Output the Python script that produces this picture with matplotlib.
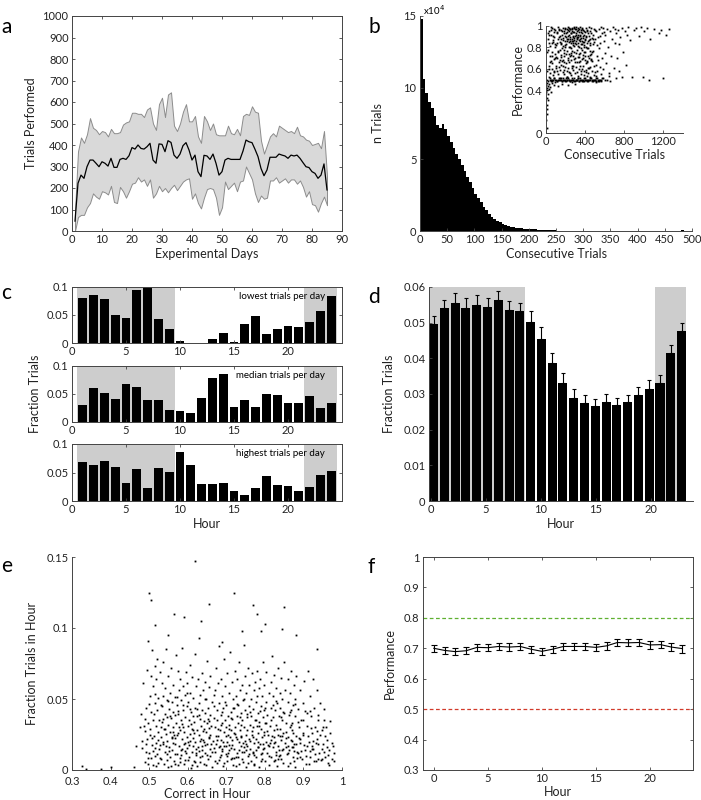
import numpy as np
import matplotlib
matplotlib.use("Agg")
import matplotlib.pyplot as plt

# ---------------- data ----------------
# a: trials performed per experimental day (mean and spread)
days = np.arange(1, 86)
trials_mean = [46, 222, 260, 245, 299, 330, 330, 315, 299, 322,
               315, 302, 338, 296, 296, 333, 338, 333, 350, 388,
               381, 400, 384, 381, 392, 408, 330, 315, 405, 403,
               369, 420, 412, 353, 338, 358, 397, 411, 377, 330,
               353, 276, 253, 352, 349, 333, 358, 315, 260, 276,
               330, 338, 333, 333, 333, 333, 372, 423, 415, 411,
               380, 346, 291, 257, 284, 343, 343, 343, 358, 353,
               349, 338, 353, 349, 353, 338, 318, 299, 295, 276,
               268, 245, 260, 312, 191]
trials_upper = [90, 370, 435, 410, 450, 525, 480, 470, 450, 465,
                460, 440, 475, 455, 455, 460, 495, 505, 510, 550,
                550, 545, 545, 530, 565, 575, 500, 470, 590, 620,
                530, 635, 645, 490, 465, 500, 555, 590, 510, 510,
                535, 440, 410, 535, 510, 470, 500, 450, 445, 445,
                445, 490, 455, 450, 475, 445, 535, 545, 540, 580,
                555, 550, 420, 360, 400, 440, 455, 440, 490, 480,
                470, 460, 465, 455, 485, 445, 440, 425, 420, 400,
                405, 410, 385, 465, 255]
trials_lower = [0, 65, 75, 75, 110, 130, 175, 160, 150, 185,
                180, 170, 210, 135, 130, 205, 185, 155, 185, 220,
                225, 250, 230, 240, 210, 240, 155, 175, 210, 185,
                200, 180, 200, 215, 190, 210, 230, 240, 245, 150,
                175, 130, 105, 155, 195, 200, 195, 155, 75, 110,
                230, 195, 210, 225, 185, 230, 235, 300, 270, 240,
                175, 135, 165, 150, 155, 235, 235, 250, 225, 235,
                245, 225, 240, 240, 220, 235, 205, 160, 185, 125,
                120, 90, 130, 160, 120]

# b: histogram of consecutive trials (bins of 5, counts in units of 1e4)
bin_left = np.arange(0, 500, 5)
bin_counts = [14.8, 10.6, 9.6, 9.0, 8.6, 8.0, 7.4, 7.2, 7.5, 7.1,
              6.6, 6.2, 5.8, 5.4, 5.0, 4.6, 4.2, 3.8, 3.4, 3.0,
              2.6, 2.3, 2.0, 1.7, 1.45, 1.2, 1.0, 0.85, 0.7, 0.6,
              0.5, 0.42, 0.35, 0.3, 0.26, 0.22, 0.2, 0.18, 0.17, 0.16,
              0.14, 0.12, 0.13, 0.1, 0.1, 0.08, 0.06, 0.05, 0.05, 0.04,
              0.03, 0.03, 0.02, 0.03, 0.02, 0.02, 0.01, 0.02, 0.01, 0.03,
              0.01, 0.01, 0.02, 0.01, 0.01, 0.03, 0.01, 0.0, 0.01, 0.01,
              0.0, 0.01, 0.0, 0.0, 0.01, 0.0, 0.02, 0.0, 0.0, 0.01,
              0.0, 0.0, 0.01, 0.0, 0.0, 0.0, 0.0, 0.0, 0.0, 0.0,
              0.0, 0.0, 0.0, 0.0, 0.0, 0.0, 0.04, 0.0, 0.0, 0.0]

# b inset: (consecutive trials, performance in %)
inset_streak = [(12, 50), (25, 49), (38, 51), (47, 50), (60, 49), (72, 50), (85, 51), (96, 50),
                (110, 49), (122, 50), (135, 50), (148, 51), (160, 49), (171, 50), (184, 50),
                (197, 49), (205, 51), (218, 50), (230, 50), (243, 49), (255, 50), (268, 51),
                (279, 50), (290, 49), (302, 50), (315, 50), (327, 51), (340, 49), (352, 50),
                (365, 50), (377, 49), (390, 51), (402, 50), (415, 50), (428, 49), (440, 50),
                (452, 51), (466, 50), (478, 49), (490, 50), (503, 50), (515, 51), (528, 49),
                (540, 50), (552, 50), (566, 49), (580, 51), (598, 50), (30, 52), (90, 48),
                (150, 51), (210, 52), (270, 48), (330, 51), (390, 49), (450, 52), (510, 48),
                (570, 51), (620, 50), (650, 49),
                (44, 50), (52, 49), (66, 50), (79, 51), (101, 50), (116, 49), (129, 51),
                (142, 50), (155, 50), (166, 49), (178, 51), (190, 50), (201, 49), (212, 50),
                (224, 51), (236, 50), (248, 49), (261, 50), (273, 50), (285, 51), (296, 49),
                (309, 50), (321, 50), (334, 49), (346, 51), (358, 50), (370, 49), (383, 50),
                (396, 51), (409, 50), (421, 49), (434, 50), (446, 50), (459, 51), (471, 49),
                (484, 50), (496, 50), (509, 49), (521, 51), (534, 50), (546, 49), (559, 50)]
inset_bulk = [(22, 88), (28, 63), (33, 95), (37, 72), (41, 56), (45, 81), (50, 67), (54, 92),
              (58, 60), (62, 76), (66, 98), (70, 54), (74, 85), (78, 69), (82, 90), (86, 58),
              (90, 74), (94, 96), (98, 63), (25, 78), (47, 99), (68, 87), (88, 80), (35, 60),
              (57, 84), (77, 57), (93, 70), (30, 92), (64, 65), (84, 94),
              (102, 82), (106, 61), (110, 94), (114, 70), (118, 88), (122, 55), (126, 77),
              (130, 97), (134, 66), (138, 85), (142, 59), (146, 91), (150, 73), (154, 83),
              (158, 64), (162, 95), (166, 79), (170, 57), (174, 89), (178, 68), (182, 93),
              (186, 75), (190, 62), (194, 86), (198, 98), (104, 71), (116, 58), (128, 90),
              (140, 78), (152, 96), (164, 67), (176, 81), (188, 55), (196, 91), (108, 84),
              (132, 62), (156, 88), (180, 72), (192, 80), (124, 99),
              (202, 90), (205, 65), (208, 83), (211, 94), (214, 58), (217, 77), (220, 88),
              (223, 70), (226, 96), (229, 61), (232, 85), (235, 92), (238, 74), (241, 80),
              (244, 97), (247, 56), (250, 88), (253, 68), (256, 93), (259, 79), (262, 86),
              (265, 63), (268, 95), (271, 82), (274, 72), (277, 90), (280, 59), (283, 87),
              (286, 76), (289, 94), (292, 66), (295, 84), (298, 91), (210, 52), (225, 99),
              (240, 66), (255, 54), (270, 88), (285, 98), (300, 70), (215, 86), (245, 90),
              (260, 73), (275, 84), (290, 81),
              (303, 93), (306, 62), (309, 86), (312, 78), (315, 95), (318, 57), (321, 89),
              (324, 71), (327, 84), (330, 92), (333, 66), (336, 80), (339, 97), (342, 60),
              (345, 88), (348, 75), (351, 91), (354, 83), (357, 55), (360, 94), (363, 69),
              (366, 86), (369, 78), (372, 98), (375, 63), (378, 89), (381, 73), (384, 92),
              (387, 58), (390, 82), (393, 95), (396, 68), (399, 87), (310, 99), (325, 53),
              (340, 74), (355, 96), (370, 60), (385, 80), (398, 76), (320, 90), (335, 87),
              (350, 67), (365, 93), (380, 85),
              (402, 72), (406, 91), (410, 59), (414, 84), (418, 96), (422, 66), (426, 79),
              (430, 93), (434, 56), (438, 87), (442, 70), (446, 95), (450, 62), (454, 82),
              (458, 98), (462, 74), (466, 58), (470, 89), (474, 67), (478, 92), (482, 77),
              (486, 54), (490, 85), (494, 63), (498, 96), (408, 80), (428, 61), (448, 88),
              (468, 76), (488, 97), (416, 53), (436, 99), (456, 69), (476, 83), (496, 57),
              (503, 88), (508, 64), (514, 95), (520, 72), (526, 58), (532, 90), (538, 79),
              (544, 97), (550, 62), (556, 84), (562, 55), (568, 93), (574, 70), (580, 98),
              (586, 60), (592, 86), (598, 75), (512, 53), (536, 68), (560, 99)]
inset_blob = [(152, 84), (158, 71), (163, 92), (169, 63), (173, 87), (179, 78), (184, 95),
              (189, 66), (195, 82), (201, 93), (206, 74), (212, 88), (216, 97), (221, 68),
              (227, 91), (231, 80), (236, 95), (242, 86), (246, 72), (251, 93), (257, 84),
              (261, 97), (266, 77), (272, 91), (276, 86), (281, 94), (287, 69), (291, 89),
              (296, 97), (302, 83), (306, 92), (311, 75), (317, 88), (322, 96), (326, 81),
              (331, 90), (337, 94), (341, 71), (347, 86), (352, 92), (356, 79), (361, 89),
              (367, 97), (371, 83), (376, 70), (382, 91), (386, 85), (391, 76), (397, 94),
              (401, 88), (407, 65), (412, 90), (417, 79), (423, 95), (427, 72), (433, 86),
              (437, 91), (443, 61), (447, 84), (453, 77), (457, 93), (463, 68), (267, 61),
              (232, 57), (298, 56), (343, 63), (388, 54), (415, 67), (188, 59), (144, 68),
              (118, 76), (96, 83), (73, 91), (60, 72), (43, 66), (31, 84), (19, 93), (14, 58),
              (9, 76), (253, 75), (279, 63), (316, 66), (362, 58), (404, 57), (445, 73),
              (482, 88), (520, 82), (548, 91), (590, 94), (250, 97), (270, 98), (310, 97),
              (330, 98), (290, 99), (350, 99), (230, 98), (380, 96), (410, 98), (190, 97),
              (170, 98), (130, 96), (110, 93), (80, 97), (55, 96)]
inset_sparse = [(605, 92), (615, 65), (625, 97), (635, 80), (645, 56), (655, 95), (665, 72),
                (675, 88), (685, 99), (695, 61), (705, 84), (715, 93), (725, 70), (735, 96),
                (745, 58), (760, 90), (775, 98), (790, 76), (805, 95), (820, 64), (840, 99),
                (860, 87), (880, 52), (900, 96), (720, 51), (780, 52), (640, 53), (700, 97),
                (750, 83), (830, 92), (920, 98), (950, 91), (975, 99), (1000, 95), (1030, 98),
                (1060, 88), (1100, 97), (1150, 93), (1180, 96), (1200, 51), (1230, 92),
                (1260, 97), (1050, 50), (990, 52)]
inset_low = [(3, 45), (5, 38), (8, 42), (10, 33), (12, 47), (15, 40), (18, 36), (20, 44),
             (24, 31), (28, 46), (6, 26), (9, 18), (4, 12), (7, 5), (11, 22), (30, 41),
             (40, 43), (50, 38), (120, 44), (160, 46), (60, 47), (80, 45), (300, 46), (220, 45)]

# c: fraction of trials per hour for three example animals
hours_c = np.arange(1, 25)
frac_lowest = [0.0804, 0.0857, 0.0792, 0.0494, 0.0440, 0.0952, 0.1000, 0.0435, 0.0250, 0.0042,
               0.0006, 0.0006, 0.0077, 0.0179, 0.0024, 0.0345, 0.0476, 0.0161, 0.0250, 0.0310,
               0.0280, 0.0381, 0.0577, 0.0833]
frac_median = [0.0296, 0.0604, 0.0515, 0.0402, 0.0680, 0.0621, 0.0396, 0.0391, 0.0207, 0.0189,
               0.0160, 0.0420, 0.0793, 0.0864, 0.0260, 0.0391, 0.0272, 0.0503, 0.0491, 0.0331,
               0.0343, 0.0462, 0.0254, 0.0331]
frac_highest = [0.0682, 0.0624, 0.0694, 0.0600, 0.0318, 0.0565, 0.0229, 0.0582, 0.0512, 0.0853,
                0.0624, 0.0294, 0.0294, 0.0312, 0.0171, 0.0112, 0.0235, 0.0441, 0.0276, 0.0265,
                0.0176, 0.0253, 0.0459, 0.0524]
c_labels = ['lowest trials per day', 'median trials per day', 'highest trials per day']

# d: mean fraction of trials per hour with s.e.m.
hours = np.arange(0, 24)
frac_mean = [0.0497, 0.0541, 0.0555, 0.0542, 0.0550, 0.0543, 0.0564, 0.0536, 0.0533, 0.0501,
             0.0454, 0.0386, 0.0332, 0.0290, 0.0276, 0.0266, 0.0278, 0.0268, 0.0277, 0.0296,
             0.0314, 0.0331, 0.0416, 0.0478]
frac_sem = [0.0023, 0.0022, 0.0028, 0.0026, 0.0027, 0.0025, 0.0026, 0.0026, 0.0022, 0.0031,
            0.0033, 0.0028, 0.0028, 0.0023, 0.0021, 0.0019, 0.0021, 0.0022, 0.0021, 0.0025,
            0.0025, 0.0022, 0.0020, 0.0022]

# e: (correct in hour x1000, fraction trials in hour x10000)
hour_points = [(325, 30), (335, 10), (375, 10), (400, 20), (460, 20), (465, 170), (475, 300),
               (500, 1250), (505, 1200), (515, 1020), (550, 950), (565, 1100), (590, 1080),
               (620, 1470), (635, 1050), (655, 1170), (720, 1250), (770, 1160), (780, 1100),
               (800, 1030), (850, 1150), (845, 990), (880, 950), (935, 850), (690, 900),
               (740, 980), (790, 980),
               (478, 392), (482, 152), (485, 610), (488, 275), (490, 58), (492, 438), (494, 705),
               (495, 215), (497, 330), (498, 905), (500, 120), (501, 520), (503, 286), (504, 665),
               (505, 410), (507, 175), (508, 845), (509, 35), (510, 355), (511, 590), (512, 240),
               (514, 470), (515, 730), (516, 98), (517, 310), (518, 640), (519, 190), (520, 420),
               (521, 780), (522, 265), (523, 52), (524, 505), (525, 355), (526, 150), (527, 690),
               (530, 232), (531, 455), (532, 80), (533, 610), (534, 340), (535, 185), (536, 520),
               (537, 760), (538, 290), (539, 45), (540, 395), (541, 130), (542, 580), (543, 255),
               (544, 850), (545, 370), (546, 205), (547, 490), (548, 20), (549, 315), (550, 660),
               (551, 160), (552, 430), (553, 270), (554, 540), (555, 95), (556, 365), (557, 720),
               (558, 225), (559, 480), (560, 140), (561, 300), (562, 600), (563, 410), (564, 60),
               (565, 250), (566, 515), (567, 180), (568, 385), (569, 810),
               (570, 330), (571, 110), (572, 460), (573, 245), (574, 700), (575, 35), (576, 395),
               (577, 560), (578, 170), (579, 280), (580, 640), (581, 85), (582, 350), (583, 490),
               (584, 215), (585, 860), (586, 150), (587, 420), (588, 305), (589, 590), (590, 40),
               (591, 265), (592, 530), (593, 190), (594, 375), (595, 690), (596, 120), (597, 450),
               (598, 235), (599, 610), (600, 310), (601, 70), (602, 480), (603, 175), (604, 350),
               (605, 740), (606, 255), (607, 540), (608, 15), (609, 410), (610, 290), (611, 655),
               (612, 130), (613, 380), (614, 225),
               (615, 505), (616, 60), (617, 340), (618, 820), (619, 200), (620, 440), (621, 105),
               (622, 590), (623, 280), (624, 380), (625, 25), (626, 640), (627, 165), (628, 470),
               (629, 250), (630, 930), (631, 360), (632, 90), (633, 530), (634, 215), (635, 310),
               (636, 680), (637, 140), (638, 420), (639, 275), (640, 560), (641, 45), (642, 345),
               (643, 195), (644, 620), (645, 400), (646, 120), (647, 265), (648, 500), (649, 330),
               (650, 770), (651, 180), (652, 435), (653, 75), (654, 295), (655, 585), (656, 230),
               (657, 390), (658, 150), (659, 660), (660, 310), (662, 20), (664, 480), (666, 205),
               (668, 365),
               (670, 560), (671, 130), (672, 300), (673, 720), (674, 180), (675, 420), (676, 50),
               (677, 350), (678, 610), (679, 240), (680, 160), (681, 470), (682, 870), (683, 280),
               (684, 95), (685, 390), (686, 640), (687, 210), (688, 330), (689, 520), (690, 150),
               (691, 25), (692, 440), (693, 265), (694, 780), (695, 170), (696, 355), (697, 590),
               (698, 110), (699, 300), (700, 460), (701, 200), (702, 680), (703, 60), (704, 380),
               (705, 250), (706, 540), (707, 140), (708, 320), (709, 830), (710, 230), (711, 410),
               (712, 80), (713, 280), (714, 620), (715, 175), (716, 360), (717, 500), (718, 35),
               (719, 260),
               (720, 440), (721, 150), (722, 700), (723, 300), (724, 90), (725, 520), (726, 230),
               (727, 380), (728, 640), (729, 120), (730, 330), (731, 460), (732, 200), (733, 760),
               (734, 40), (735, 280), (736, 560), (737, 170), (738, 400), (739, 240), (740, 600),
               (741, 75), (742, 350), (743, 490), (744, 190), (745, 880), (746, 300), (747, 130),
               (748, 420), (749, 660), (750, 250), (751, 20), (752, 540), (753, 170), (754, 370),
               (755, 280), (756, 720), (757, 100), (758, 450), (759, 220), (760, 600), (761, 320),
               (762, 150), (763, 500), (764, 60),
               (765, 380), (766, 250), (767, 680), (768, 130), (769, 430), (770, 300), (771, 560),
               (772, 190), (773, 40), (774, 350), (775, 620), (776, 220), (777, 480), (778, 95),
               (779, 310), (780, 700), (781, 160), (782, 400), (783, 260), (784, 580), (785, 20),
               (786, 340), (787, 640), (788, 180), (789, 450), (790, 290), (791, 110), (792, 520),
               (793, 230), (794, 370), (795, 760), (796, 150), (797, 420), (798, 270), (799, 600),
               (800, 60), (801, 330), (802, 480), (803, 200), (804, 690), (805, 120), (806, 390),
               (808, 250), (810, 540), (812, 170),
               (814, 310), (815, 620), (816, 90), (817, 440), (818, 240), (819, 800), (820, 160),
               (821, 370), (822, 520), (823, 60), (824, 280), (825, 670), (826, 200), (827, 420),
               (828, 130), (829, 580), (830, 320), (831, 30), (832, 470), (833, 250), (834, 720),
               (835, 170), (836, 380), (837, 100), (838, 540), (839, 290), (840, 440), (841, 210),
               (842, 650), (843, 80), (844, 350), (845, 500), (846, 150), (847, 410), (848, 260),
               (849, 760), (851, 190), (853, 560), (855, 330), (857, 110),
               (859, 480), (860, 230), (861, 640), (862, 140), (863, 390), (864, 300), (865, 50),
               (866, 540), (867, 210), (868, 420), (869, 700), (870, 160), (871, 330), (872, 460),
               (873, 90), (874, 260), (875, 600), (876, 180), (877, 380), (878, 20), (879, 500),
               (880, 240), (882, 660), (884, 130), (886, 430), (888, 300), (890, 560), (892, 190),
               (894, 350), (896, 80), (898, 470), (900, 250), (902, 630), (905, 140), (908, 400),
               (910, 310), (912, 700), (914, 200), (916, 520), (918, 90), (920, 380), (922, 260),
               (924, 640), (926, 150), (928, 440), (930, 300), (932, 60), (934, 560), (936, 220),
               (938, 350), (941, 120), (944, 470), (947, 280), (950, 180), (953, 430), (956, 90),
               (959, 300), (962, 210), (966, 140), (970, 260), (975, 80), (979, 120)]
hour_points_more = [(486, 312), (493, 128), (499, 467), (506, 83), (513, 395), (519, 27), (528, 176),
                    (534, 448), (541, 292), (547, 67), (553, 381), (560, 229), (566, 42), (571, 517),
                    (577, 304), (583, 138), (589, 455), (594, 72), (600, 198), (606, 429), (611, 36),
                    (617, 262), (622, 151), (628, 384), (633, 56), (639, 213), (645, 498), (650, 105),
                    (656, 342), (661, 186), (667, 448), (672, 63), (678, 291), (683, 172), (689, 406),
                    (694, 48), (700, 237), (705, 121), (711, 367), (716, 88), (722, 255), (727, 462),
                    (733, 142), (738, 318), (744, 59), (749, 205), (755, 397), (760, 113), (766, 276),
                    (771, 34), (777, 352), (782, 164), (788, 417), (793, 77), (799, 243), (804, 331),
                    (810, 96), (815, 209), (821, 458), (826, 68), (832, 287), (837, 143), (843, 371),
                    (848, 52), (854, 226), (859, 117), (865, 409), (870, 284), (876, 63), (881, 186),
                    (887, 339), (892, 92), (898, 264), (903, 418), (909, 171), (914, 45), (920, 299),
                    (925, 205), (931, 113), (937, 388), (942, 243), (948, 75), (954, 352), (960, 160),
                    (967, 37), (973, 189),
                    (481, 205), (489, 362), (496, 41), (502, 248), (510, 137), (516, 536), (524, 214),
                    (529, 86), (536, 359), (543, 168), (549, 487), (556, 31), (562, 270), (568, 116),
                    (574, 413), (579, 57), (586, 327), (591, 181), (597, 542), (603, 94), (608, 326),
                    (614, 167), (619, 58), (625, 431), (631, 205), (636, 98), (642, 287), (647, 33),
                    (653, 362), (658, 247), (663, 129), (669, 527), (674, 238), (680, 71), (685, 318),
                    (691, 194), (696, 476), (702, 99), (707, 286), (713, 157), (718, 438), (724, 27),
                    (729, 216), (735, 371), (740, 128), (746, 497), (751, 184), (757, 51), (762, 411),
                    (768, 229), (773, 107), (779, 518), (784, 312), (790, 64), (795, 184), (801, 437),
                    (806, 273), (812, 38), (817, 351), (823, 192), (828, 487), (834, 79), (839, 236),
                    (845, 143), (850, 402), (856, 268), (861, 25), (867, 318), (872, 159), (878, 462),
                    (883, 84), (889, 227), (895, 133), (900, 355), (906, 42), (911, 239), (917, 418),
                    (923, 167), (928, 61), (934, 272), (939, 182), (945, 69), (951, 306), (957, 241),
                    (964, 47), (969, 344), (976, 167),
                    (491, 183), (507, 224), (521, 113), (537, 199), (552, 134), (568, 226), (583, 103),
                    (598, 157), (613, 282), (629, 137), (644, 176), (659, 97), (675, 213), (690, 131),
                    (706, 174), (721, 83), (737, 229), (752, 141), (768, 118), (783, 196), (799, 152),
                    (814, 187), (830, 108), (845, 241), (861, 172), (876, 131), (892, 219), (907, 96),
                    (923, 148), (938, 76), (954, 127), (498, 82), (514, 156), (530, 302), (545, 112),
                    (561, 187), (576, 264), (592, 132), (607, 203), (622, 117), (638, 166), (654, 224),
                    (669, 154), (685, 108), (700, 172), (716, 211), (731, 93), (747, 164), (762, 202),
                    (778, 141), (793, 118), (809, 175), (824, 233), (840, 106), (855, 162), (871, 207),
                    (886, 118), (902, 176), (917, 137), (933, 189), (948, 146), (963, 106), (980, 60)]

# f: performance per hour with s.e.m.
perf_mean = [0.700, 0.693, 0.689, 0.692, 0.703, 0.702, 0.706, 0.704, 0.706, 0.697, 0.690, 0.697,
             0.706, 0.706, 0.706, 0.703, 0.708, 0.719, 0.718, 0.719, 0.711, 0.712, 0.704, 0.699]
perf_sem = [0.012, 0.012, 0.011, 0.012, 0.012, 0.012, 0.012, 0.012, 0.012, 0.012, 0.012, 0.012,
            0.012, 0.013, 0.013, 0.012, 0.012, 0.012, 0.012, 0.012, 0.012, 0.012, 0.012, 0.013]

# ---------------- style ----------------
plt.rcParams['font.family'] = ['Lato', 'DejaVu Sans']
plt.rcParams['font.size'] = 8
plt.rcParams['axes.linewidth'] = 0.7
plt.rcParams['axes.edgecolor'] = '#444444'
plt.rcParams['axes.labelsize'] = 9
plt.rcParams['axes.labelcolor'] = '#222222'
for ax_ in ('xtick', 'ytick'):
    plt.rcParams[ax_ + '.direction'] = 'in'
    plt.rcParams[ax_ + '.major.size'] = 2.5
    plt.rcParams[ax_ + '.major.width'] = 0.6
    plt.rcParams[ax_ + '.color'] = '#444444'
    plt.rcParams[ax_ + '.labelcolor'] = '#222222'
    plt.rcParams[ax_ + '.labelsize'] = 8
    plt.rcParams[ax_ + '.major.pad'] = 2.5

SHADE = '#cdcdcd'
W, H = 701, 800
fig = plt.figure(figsize=(W / 100, H / 100), dpi=100)


def axes_px(l, t, r, b):
    return fig.add_axes([l / W, 1 - b / H, (r - l) / W, (b - t) / H])


def letter(x, y, s):
    fig.text(x / W, 1 - y / H, s, fontsize=15, ha='left', va='baseline')


def no_box(ax):
    ax.spines['top'].set_visible(False)
    ax.spines['right'].set_visible(False)


# ---------------- a ----------------
ax = axes_px(72, 16, 342, 231)
ax.fill_between(days, trials_lower, trials_upper, facecolor='#d9d9d9',
                edgecolor='#8c8c8c', linewidth=0.7)
ax.plot(days, trials_mean, color='k', lw=0.9)
ax.set_xlim(0, 90)
ax.set_ylim(0, 1000)
ax.set_xticks(np.arange(0, 91, 10))
ax.set_yticks(np.arange(0, 1001, 100))
ax.tick_params(top=True, right=True)
ax.set_xlabel('Experimental Days', labelpad=2)
ax.set_ylabel('Trials Performed', labelpad=4)
letter(1, 33, 'a')

# ---------------- b ----------------
ax = axes_px(420, 16, 692, 231)
ax.bar(bin_left, bin_counts, width=5, align='edge', color='k', linewidth=0)
ax.set_xlim(0, 500)
ax.set_ylim(0, 15)
ax.set_xticks(np.arange(0, 501, 50))
ax.set_yticks([0, 5, 10, 15])
no_box(ax)
ax.set_xlabel('Consecutive Trials', labelpad=2)
ax.set_ylabel('n Trials', labelpad=14)
fig.text(423 / W, 1 - 3 / H, r'x10$^4$', fontsize=7, va='top', ha='left')
letter(368, 33, 'b')

ins = axes_px(546, 26, 683, 133)
for group in (inset_bulk, inset_blob, inset_sparse, inset_low, inset_streak):
    pts = np.array(group, dtype=float)
    ins.plot(pts[:, 0], pts[:, 1] / 100, 's', color='k', ms=1.3, mew=0)
ins.set_xlim(0, 1400)
ins.set_ylim(0, 1)
ins.set_xticks([0, 400, 800, 1200])
ins.set_yticks([0, 0.4, 0.6, 0.8, 1])
ins.set_yticklabels(['0', '0.4', '0.6', '0.8', '1'])
no_box(ins)
ins.set_xlabel('Consecutive Trials', labelpad=1)
ins.set_ylabel('Performance', labelpad=2)

# ---------------- c ----------------
c_rows = [(287, 343, frac_lowest), (366, 422, frac_median), (444, 501, frac_highest)]
for i, (top, bot, vals) in enumerate(c_rows):
    ax = axes_px(72, top, 342, bot)
    ax.axvspan(0.5, 9.5, color=SHADE, lw=0)
    ax.axvspan(21.5, 24.5, color=SHADE, lw=0)
    ax.bar(hours_c, vals, width=0.8, color='k', linewidth=0)
    ax.set_xlim(0, 25)
    ax.set_ylim(0, 0.1)
    ax.set_xticks([0, 5, 10, 15, 20])
    ax.set_yticks([0, 0.05, 0.1])
    ax.set_yticklabels(['0', '0.05', '0.1'])
    ax.tick_params(top=True, right=True)
    ax.text(0.937, 0.83, c_labels[i], transform=ax.transAxes, fontsize=7,
            ha='right', va='center')
    if i == 1:
        ax.set_ylabel('Fraction Trials', labelpad=4)
    if i == 2:
        ax.set_xlabel('Hour', labelpad=2)
letter(1, 299, 'c')

# ---------------- d ----------------
ax = axes_px(429, 287, 693, 501)
xpos = 0.27 + 0.98 * hours
ax.axvspan(-0.15, 8.55, color=SHADE, lw=0)
ax.axvspan(20.43, 23.25, color=SHADE, lw=0)
ax.bar(xpos, frac_mean, width=0.82, color='k', linewidth=0)
ax.errorbar(xpos, frac_mean, yerr=[np.zeros(24), frac_sem], fmt='none',
            ecolor='k', elinewidth=0.8, capsize=1.5, capthick=0.8)
ax.set_xlim(-0.15, 23.85)
ax.set_ylim(0, 0.06)
ax.set_xticks([0, 5, 10, 15, 20])
ax.set_yticks(np.arange(0, 0.061, 0.01))
ax.set_yticklabels(['0', '0.01', '0.02', '0.03', '0.04', '0.05', '0.06'])
no_box(ax)
ax.set_xlabel('Hour', labelpad=2)
ax.set_ylabel('Fraction Trials', labelpad=6)
letter(368, 303, 'd')

# ---------------- e ----------------
ax = axes_px(72, 557, 342, 770)
for group in (hour_points, hour_points_more):
    pts = np.array(group, dtype=float)
    ax.plot(pts[:, 0] / 1000, pts[:, 1] / 10000, 's', color='k', ms=1.3, mew=0)
ax.set_xlim(0.3, 1)
ax.set_ylim(0, 0.15)
ax.set_xticks(np.arange(0.3, 1.01, 0.1))
ax.set_xticklabels(['0.3', '0.4', '0.5', '0.6', '0.7', '0.8', '0.9', '1'])
ax.set_yticks([0, 0.05, 0.1, 0.15])
ax.set_yticklabels(['0', '0.05', '0.1', '0.15'])
ax.tick_params(axis='x', pad=4)
no_box(ax)
ax.set_xlabel('Correct in Hour', labelpad=1)
ax.set_ylabel('Fraction Trials in Hour', labelpad=6)
letter(1, 572, 'e')

# ---------------- f ----------------
ax = axes_px(423, 557, 693, 770)
ax.axhline(0.8, color='#5fb030', lw=0.9, ls=(0, (3, 2)))
ax.axhline(0.5, color='#d23a2a', lw=0.9, ls=(0, (3, 2)))
ax.errorbar(hours, perf_mean, yerr=perf_sem, color='k', lw=0.8,
            elinewidth=0.8, capsize=2, capthick=0.8)
ax.set_xlim(-1, 24)
ax.set_ylim(0.3, 1)
ax.set_xticks([0, 5, 10, 15, 20])
ax.set_yticks(np.arange(0.3, 1.01, 0.1))
ax.set_yticklabels(['0.3', '0.4', '0.5', '0.6', '0.7', '0.8', '0.9', '1'])
ax.tick_params(top=True, right=True)
ax.set_xlabel('Hour', labelpad=1)
ax.set_ylabel('Performance', labelpad=6)
letter(368, 573, 'f')

fig.savefig('out.png', dpi=100)
